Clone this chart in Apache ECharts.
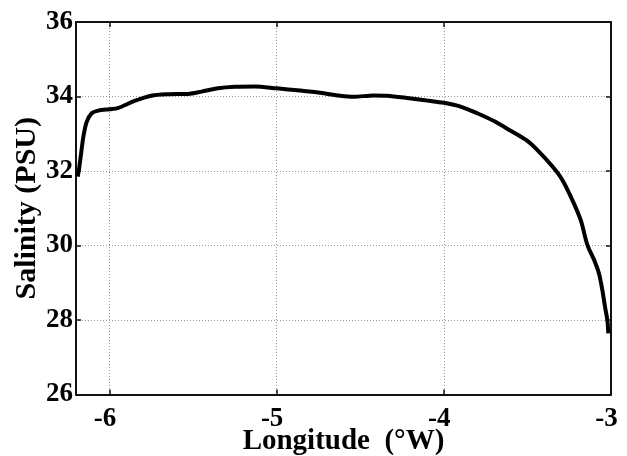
<!DOCTYPE html>
<html>
<head>
<meta charset="utf-8">
<script src="https://cdn.jsdelivr.net/npm/echarts@6/dist/echarts.min.js"></script>
<style>
html,body{margin:0;padding:0;background:#fff;}
#chart{width:627px;height:456px;}
</style>
</head>
<body>
<div id="chart"></div>
<script>
// Longitude (°W) of each sample
const longitude = [-6.19, -6.182, -6.172, -6.156, -6.136, -6.106, -6.067, -6.0, -5.95, -5.85, -5.75, -5.65, -5.53, -5.45, -5.35, -5.25, -5.13, -5.0, -4.86, -4.74, -4.62, -4.54, -4.42, -4.34, -4.22, -4.10, -4.0, -3.90, -3.80, -3.70, -3.60, -3.504, -3.44, -3.35, -3.291, -3.231, -3.181, -3.141, -3.101, -3.072, -3.052, -3.036, -3.022, -3.016];
// Salinity (PSU)
const salinity = [31.85, 32.05, 32.38, 32.92, 33.32, 33.55, 33.62, 33.66, 33.69, 33.88, 34.02, 34.06, 34.07, 34.13, 34.22, 34.26, 34.27, 34.22, 34.16, 34.10, 34.02, 33.99, 34.03, 34.02, 33.96, 33.89, 33.83, 33.73, 33.55, 33.34, 33.08, 32.82, 32.56, 32.12, 31.76, 31.22, 30.68, 30.01, 29.61, 29.25, 28.81, 28.36, 28.0, 27.64];
const xTicks = [-6, -5, -4, -3];
const yTicks = [26, 28, 30, 32, 34, 36];
const xTitle = 'Longitude  (°W)';
const yTitle = 'Salinity (PSU)';

const font = 'Liberation Serif';
const lineStyleBox = {color: '#111', width: 2};
const grid = {left: 76, right: 16, top: 22, bottom: 61.5, containLabel: false, outerBoundsMode: 'none'};

const chart = echarts.init(document.getElementById('chart'), null, {renderer: 'canvas'});
const points = longitude.map((x, i) => [x, salinity[i]]);

const option = {
  animation: false,
  backgroundColor: '#fff',
  grid: grid,
  xAxis: [{
    type: 'value', position: 'bottom', min: -6.2, max: -3,
    axisLine: {show: true, onZero: false, lineStyle: lineStyleBox},
    axisTick: {show: true, inside: true, length: 5, customValues: xTicks, lineStyle: {color: '#111', width: 1.5}},
    axisLabel: {show: true, customValues: xTicks, margin: 11, padding: [0, 9, 0, 0], color: '#000', fontFamily: font, fontWeight: 'bold', fontSize: 27, showMinLabel: true, showMaxLabel: true},
    splitLine: {show: true, lineStyle: {color: '#999', width: 1, type: [1, 2]}},
    name: xTitle, nameLocation: 'middle', nameGap: 33, nameMoveOverlap: false,
    nameTextStyle: {color: '#000', fontFamily: font, fontWeight: 'bold', fontSize: 29}
  }, {
    type: 'value', position: 'top', min: -6.2, max: -3,
    axisLine: {show: true, onZero: false, lineStyle: lineStyleBox},
    axisTick: {show: true, inside: true, length: 5, customValues: xTicks, lineStyle: {color: '#111', width: 1.5}},
    axisLabel: {show: false},
    splitLine: {show: false}
  }],
  yAxis: [{
    type: 'value', position: 'left', min: 26, max: 36, interval: 2,
    axisLine: {show: true, onZero: false, lineStyle: lineStyleBox},
    axisTick: {show: true, inside: true, length: 5, lineStyle: {color: '#111', width: 1.5}},
    axisLabel: {show: true, margin: 3, color: '#000', fontFamily: font, fontWeight: 'bold', fontSize: 27},
    splitLine: {show: true, lineStyle: {color: '#999', width: 1, type: [1, 2]}},
    name: yTitle, nameLocation: 'middle', nameGap: 34, nameRotate: 90, nameMoveOverlap: false,
    nameTextStyle: {color: '#000', fontFamily: font, fontWeight: 'bold', fontSize: 30}
  }, {
    type: 'value', position: 'right', min: 26, max: 36, interval: 2,
    axisLine: {show: true, onZero: false, lineStyle: lineStyleBox},
    axisTick: {show: true, inside: true, length: 5, lineStyle: {color: '#111', width: 1.5}},
    axisLabel: {show: false},
    splitLine: {show: false}
  }],
  series: [{
    type: 'line', xAxisIndex: 0, yAxisIndex: 0,
    data: points, showSymbol: false, symbol: 'none',
    smooth: 0.3,
    lineStyle: {color: '#000', width: 4},
    z: 5
  }]
};
chart.setOption(option);
</script>
</body>
</html>
